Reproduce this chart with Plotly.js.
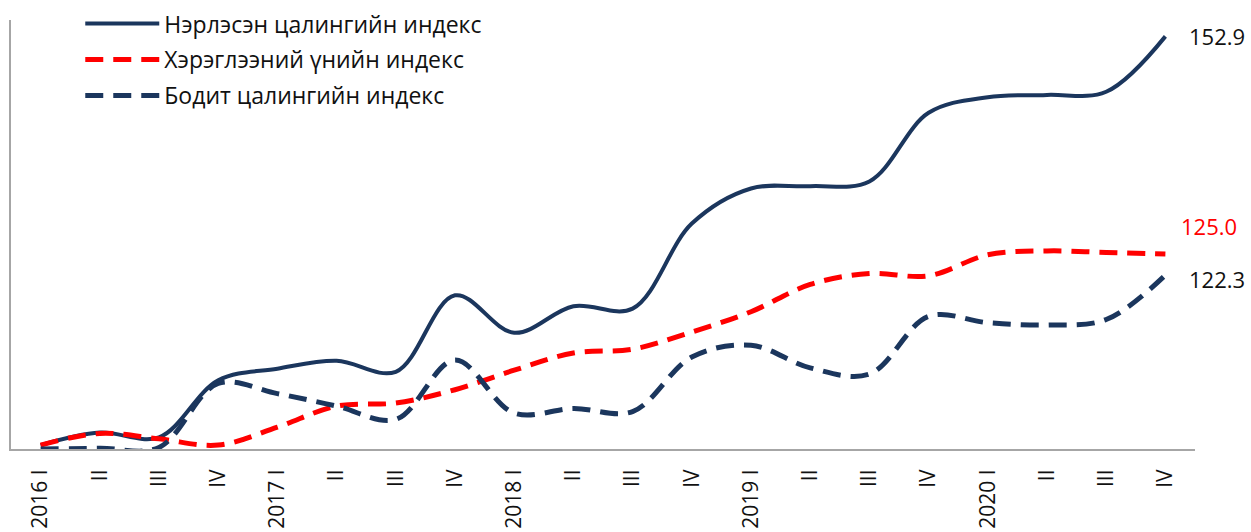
<!DOCTYPE html>
<html>
<head>
<meta charset="utf-8">
<script src="https://cdn.plot.ly/plotly-3.0.1.min.js"></script>
<style>html,body{margin:0;padding:0;background:#fff;}#chart{width:1251px;height:532px;}</style>
</head>
<body>
<div id="chart"></div>
<script>
const tickLabels = ["2016 I","II","III","IV","2017 I","II","III","IV","2018 I","II","III","IV","2019 I","II","III","IV","2020 I","II","III","IV"];
const nominalIndex = [100.5,102.1,101.5,108.8,110.3,111.3,109.9,119.7,114.9,118.3,118.0,128.9,133.4,133.7,134.3,143.1,145.1,145.4,145.8,152.9];
const cpiIndex     = [100.5,102.0,101.3,100.5,102.8,105.5,105.9,107.6,110.1,112.3,112.8,115.0,117.6,121.1,122.5,122.2,124.9,125.4,125.2,125.0];
const realIndex    = [100.0,100.1,100.2,108.4,107.1,105.5,103.8,111.4,104.6,105.2,104.8,111.8,113.3,110.4,109.6,117.0,116.2,115.9,116.6,122.3];
const seriesNames = ["Нэрлэсэн цалингийн индекс","Хэрэглээний үнийн индекс","Бодит цалингийн индекс"];

const xIdx = tickLabels.map((_, i) => i);
const navy = "#1B365D";
const red = "#FF0000";

const traces = [
  {x: xIdx, y: nominalIndex, name: seriesNames[0], mode: "lines", legendgroup: "a",
   line: {color: navy, width: 4, shape: "spline", smoothing: 1}},
  {x: xIdx, y: cpiIndex, name: seriesNames[1], mode: "lines", legendgroup: "b",
   line: {color: red, width: 5, shape: "spline", smoothing: 1, dash: "18px,10px"}},
  {x: xIdx, y: realIndex, name: seriesNames[2], mode: "lines", legendgroup: "c",
   line: {color: navy, width: 5, shape: "spline", smoothing: 1, dash: "18px,10px"}}
];

const last = xIdx.length - 1;
const annFont = {family: "Open Sans, sans-serif", size: 22};
const annotations = [
  {x: last, y: nominalIndex[last], text: nominalIndex[last].toFixed(1), xanchor: "left", yanchor: "middle", xshift: 22, showarrow: false, font: Object.assign({}, annFont, {color: "#111"})},
  {x: last, y: cpiIndex[last], text: cpiIndex[last].toFixed(1), xanchor: "left", yanchor: "middle", xshift: 14, yshift: 28, showarrow: false, font: Object.assign({}, annFont, {color: red})},
  {x: last, y: realIndex[last], text: realIndex[last].toFixed(1), xanchor: "left", yanchor: "middle", xshift: 22, yshift: -4, showarrow: false, font: Object.assign({}, annFont, {color: "#111"})}
];

const layout = {
  width: 1251, height: 532,
  margin: {l: 11, r: 56, t: 20, b: 83, autoexpand: false},
  paper_bgcolor: "#fff", plot_bgcolor: "#fff",
  showlegend: true,
  legend: {x: 0.0585, y: 0.996, xref: "paper", yref: "container", xanchor: "left", yanchor: "top",
           bgcolor: "rgba(0,0,0,0)",
           font: {family: "Open Sans, sans-serif", size: 23, color: "#111"},
           tracegroupgap: 3, itemwidth: 74},
  xaxis: {range: [-0.5, 19.5], tickmode: "array", tickvals: xIdx, ticktext: tickLabels,
          tickangle: -90, showgrid: false, zeroline: false, showline: true,
          linecolor: "#A6A6A6", linewidth: 2, ticks: "", ticklabelstandoff: 10, automargin: false,
          tickfont: {family: "Open Sans, sans-serif", size: 21, color: "#111"}},
  yaxis: {range: [100, 155], showgrid: false, zeroline: false, showline: true, automargin: false,
          linecolor: "#A6A6A6", linewidth: 2, showticklabels: false, ticks: ""},
  annotations: annotations
};

Plotly.newPlot("chart", traces, layout, {displayModeBar: false, staticPlot: true});
</script>
</body>
</html>
